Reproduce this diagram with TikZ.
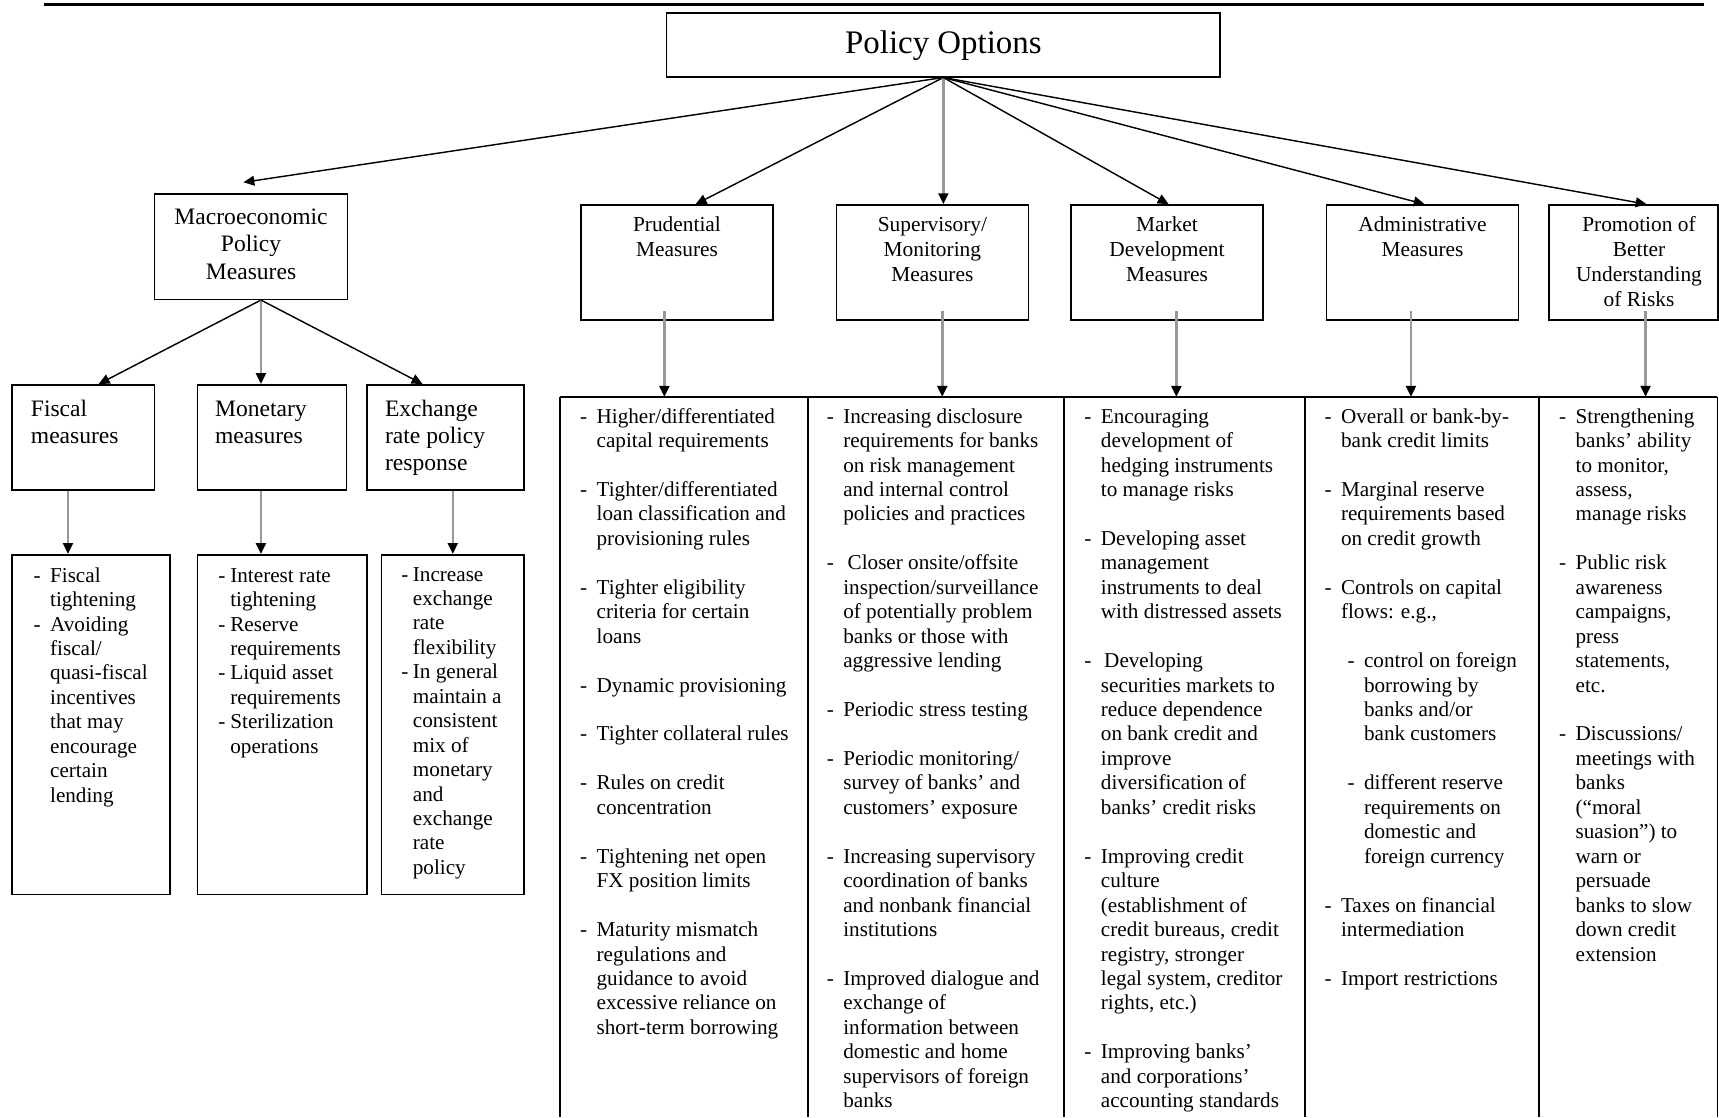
\documentclass[tikz,border=0pt]{standalone}
\usepackage{fontspec}
\setmainfont{Liberation Serif}
\usetikzlibrary{arrows.meta}
\newcommand{\tabstack}[2][c]{\begin{tabular}[t]{@{}#1@{}}#2\end{tabular}}
\newcommand{\dashlist}[2]{\begin{tabular}[t]{@{}l@{\hspace{#1}}l@{}}#2\end{tabular}}
\newcommand{\subdash}{\hspace*{6pt}-\hspace{8.6pt}}
\newcommand{\subind}{\hspace*{21pt}}

\begin{document}
\begin{tikzpicture}[x=1pt,y=-1pt,
  box/.style={draw, line width=1.4pt, inner sep=0pt},
  head/.style={inner sep=0pt, anchor=base, font=\fontsize{19.5}{22.8}\selectfont},
  bighead/.style={inner sep=0pt, font=\fontsize{21.5}{24.8}\selectfont},
  txt/.style={inner sep=0pt, anchor=base west, font=\fontsize{19.3}{22.3}\selectfont},
  tbl/.style={line width=1.4pt},
  arr/.style={-{Triangle[length=10pt,width=9pt]}, line width=1.3pt},
  garr/.style={-{Triangle[length=10pt,width=9pt,color=black]}, line width=2.3pt, draw=black!40}]
\useasboundingbox (0,0) rectangle (1568,1019);
\draw [line width=3pt] (40,4)--(1554,4);

% top box and the six groups
\node[box, minimum width=505pt, minimum height=58pt] (policy) at (860.5,41) {};
\node[head] (policyt) at (860.5,48.5) {\fontsize{30}{36}\selectfont Policy Options};

\node[box, minimum width=176pt, minimum height=96pt] (macro) at (229,225) {};
\node[box, minimum width=175pt, minimum height=105pt] (prud) at (617.5,239.5) {};
\node[box, minimum width=175pt, minimum height=105pt] (sup) at (850.5,239.5) {};
\node[box, minimum width=175pt, minimum height=105pt] (market) at (1064.5,239.5) {};
\node[box, minimum width=175pt, minimum height=105pt] (admin) at (1297.5,239.5) {};
\node[box, minimum width=154pt, minimum height=105pt] (promo) at (1490,239.5) {};

\node[bighead, anchor=base] (macrot) at (229,205) {\tabstack{Macroeconomic\\Policy\\Measures}};
\node[head] (prudt) at (617.5,211) {\tabstack{Prudential\\Measures}};
\node[head] (supt) at (850.5,211) {\tabstack{Supervisory/\\Monitoring\\Measures}};
\node[head] (markett) at (1064.5,211) {\tabstack{Market\\Development\\Measures}};
\node[head] (admint) at (1297.5,211) {\tabstack{Administrative\\Measures}};
\node[head] (promot) at (1495,211) {\tabstack{Promotion of\\Better\\Understanding\\of Risks}};

\draw [arr] (policy.south)--([xshift=-7pt,yshift=10pt]macro.north);
\draw [arr] (policy.south)--([xshift=17pt]prud.north);
\draw [garr] (policy.south)--([xshift=10pt]sup.north);
\draw [arr] (policy.south)--([xshift=1.5pt]market.north);
\draw [arr] (policy.south)--([xshift=2pt]admin.north);
\draw [arr] (policy.south)--([xshift=12pt]promo.north);

% macroeconomic branch
\node[box, minimum width=130pt, minimum height=96pt] (fiscal) at (76,399) {};
\node[box, minimum width=136pt, minimum height=96pt] (monetary) at (248,399) {};
\node[box, minimum width=143pt, minimum height=96pt] (exchange) at (406.5,399) {};
\node[bighead, anchor=base west] (fiscalt) at (28,379.5) {\tabstack[l]{Fiscal\\measures}};
\node[bighead, anchor=base west] (monetaryt) at (196,379.5) {\tabstack[l]{Monetary\\measures}};
\node[bighead, anchor=base west] (exchanget) at (351,379.5) {\tabstack[l]{Exchange\\rate policy\\response}};

\draw [arr] ([xshift=9pt]macro.south)--([xshift=14pt]fiscal.north);
\draw [garr] ([xshift=9pt]macro.south)--([xshift=-10pt]monetary.north);
\draw [arr] ([xshift=9pt]macro.south)--([xshift=-21pt]exchange.north);

\node[box, minimum width=144pt, minimum height=310pt] (fiscalc) at (83,661) {};
\node[box, minimum width=155pt, minimum height=310pt] (monetaryc) at (257.5,661) {};
\node[box, minimum width=130pt, minimum height=310pt] (exchangec) at (413,661) {};

\draw [garr] ([xshift=-14pt]fiscal.south)--([xshift=-21pt]fiscalc.north);
\draw [garr] ([xshift=-10pt]monetary.south)--([xshift=-19.5pt]monetaryc.north);
\draw [garr] ([xshift=6.5pt]exchange.south)--(exchangec.north);

\node[txt] (fiscall) at (30.5,531) {\dashlist{8.6pt}{
- & Fiscal\\ & tightening\\
- & Avoiding\\ & fiscal/\\ & quasi-fiscal\\ & incentives\\ & that may\\ & encourage\\ & certain\\ & lending}};
\node[txt] (monetaryl) at (199,531) {\dashlist{4.5pt}{
- & Interest rate\\ & tightening\\
- & Reserve\\ & requirements\\
- & Liquid asset\\ & requirements\\
- & Sterilization\\ & operations}};
\node[txt] (exchangel) at (366,530) {\dashlist{4pt}{
- & Increase\\ & exchange\\ & rate\\ & flexibility\\
- & In general\\ & maintain a\\ & consistent\\ & mix of\\ & monetary\\ & and\\ & exchange\\ & rate\\ & policy}};

% table of instruments
\draw [tbl] (511,362)--(1566.5,362);
\foreach \x in {511,737,970.5,1190.5,1404,1566.5}
  \draw [tbl] (\x,362)--(\x,1019);
\coordinate (prudin) at (606,362);
\coordinate (supin) at (859.5,362);
\coordinate (marketin) at (1073,362);
\coordinate (adminin) at (1287,362);
\coordinate (promoin) at (1501,362);

\draw [garr] ([xshift=-11.5pt,yshift=9pt]prud.south)--(prudin);
\draw [garr] ([xshift=9pt,yshift=9pt]sup.south)--(supin);
\draw [garr] ([xshift=8.5pt,yshift=9pt]market.south)--(marketin);
\draw [garr] ([xshift=-10.5pt,yshift=9pt]admin.south)--(adminin);
\draw [garr] ([xshift=11pt,yshift=9pt]promo.south)--(promoin);

\node[txt] (prudl) at (529,386) {\dashlist{8.6pt}{
- & Higher/differentiated\\ & capital requirements\\ \\
- & Tighter/differentiated\\ & loan classification and\\ & provisioning rules\\ \\
- & Tighter eligibility\\ & criteria for certain\\ & loans\\ \\
- & Dynamic provisioning\\ \\
- & Tighter collateral rules\\ \\
- & Rules on credit\\ & concentration\\ \\
- & Tightening net open\\ & FX position limits\\ \\
- & Maturity mismatch\\ & regulations and\\ & guidance to avoid\\ & excessive reliance on\\ & short-term borrowing}};

\node[txt] (supl) at (754,386) {\dashlist{8.6pt}{
- & Increasing disclosure\\ & requirements for banks\\ & on risk management\\ & and internal control\\ & policies and practices\\ \\
- & \hspace*{4pt}Closer onsite/offsite\\ & inspection/surveillance\\ & of potentially problem\\ & banks or those with\\ & aggressive lending\\ \\
- & Periodic stress testing\\ \\
- & Periodic monitoring/\\ & survey of banks' and\\ & customers' exposure\\ \\
- & Increasing supervisory\\ & coordination of banks\\ & and nonbank financial\\ & institutions\\ \\
- & Improved dialogue and\\ & exchange of\\ & information between\\ & domestic and home\\ & supervisors of foreign\\ & banks}};

\node[txt] (marketl) at (989,386) {\dashlist{8.6pt}{
- & Encouraging\\ & development of\\ & hedging instruments\\ & to manage risks\\ \\
- & Developing asset\\ & management\\ & instruments to deal\\ & with distressed assets\\ \\
- & \hspace*{3pt}Developing\\ & securities markets to\\ & reduce dependence\\ & on bank credit and\\ & improve\\ & diversification of\\ & banks' credit risks\\ \\
- & Improving credit\\ & culture\\ & (establishment of\\ & credit bureaus, credit\\ & registry, stronger\\ & legal system, creditor\\ & rights, etc.)\\ \\
- & Improving banks'\\ & and corporations'\\ & accounting standards}};

\node[txt] (adminl) at (1208,386) {\dashlist{8.6pt}{
- & Overall or bank-by-\\ & bank credit limits\\ \\
- & Marginal reserve\\ & requirements based\\ & on credit growth\\ \\
- & Controls on capital\\ & flows: e.g.,\\ \\
 & \subdash control on foreign\\ & \subind borrowing by\\ & \subind banks and/or\\ & \subind bank customers\\ \\
 & \subdash different reserve\\ & \subind requirements on\\ & \subind domestic and\\ & \subind foreign currency\\ \\
- & Taxes on financial\\ & intermediation\\ \\
- & Import restrictions}};

\node[txt] (promol) at (1422,386) {\dashlist{8.6pt}{
- & Strengthening\\ & banks' ability\\ & to monitor,\\ & assess,\\ & manage risks\\ \\
- & Public risk\\ & awareness\\ & campaigns,\\ & press\\ & statements,\\ & etc.\\ \\
- & Discussions/\\ & meetings with\\ & banks\\ & (``moral\\ & suasion'') to\\ & warn or\\ & persuade\\ & banks to slow\\ & down credit\\ & extension}};

\end{tikzpicture}
\end{document}
